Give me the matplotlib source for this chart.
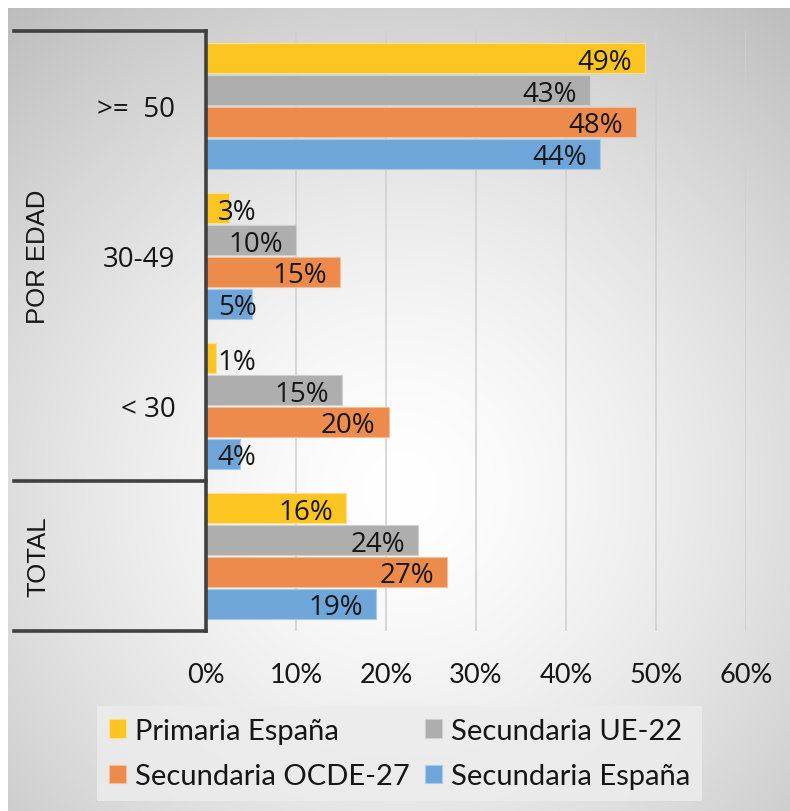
import numpy as np
import matplotlib
matplotlib.use("Agg")
import matplotlib.pyplot as plt
from matplotlib.transforms import blended_transform_factory
from matplotlib.patches import Patch

# ---------------- data ----------------
categories = [">=  50", "30-49", "< 30", "TOTAL"]
groups = ["POR EDAD", "TOTAL"]
series_names = ["Primaria España", "Secundaria UE-22",
                "Secundaria OCDE-27", "Secundaria España"]
primaria_espana = [48.8, 2.6, 1.1, 15.6]
secundaria_ue22 = [42.7, 10.0, 15.1, 23.6]
secundaria_ocde27 = [47.8, 14.9, 20.3, 26.8]
secundaria_espana = [43.8, 5.1, 3.8, 18.9]
x_ticks = [0, 10, 20, 30, 40, 50, 60]
x_tick_labels = ["0%", "10%", "20%", "30%", "40%", "50%", "60%"]

series_values = [primaria_espana, secundaria_ue22, secundaria_ocde27, secundaria_espana]
colors = ["#FCC521", "#AEAEAE", "#EC8B4C", "#6FA6DA"]
edge_colors = ["#FDE08A", "#D0D0D0", "#F5BE9A", "#A9CBEB"]
text_color = "#161616"

W, H = 790, 812
fig = plt.figure(figsize=(W / 100, H / 100), dpi=100)
fig.patch.set_facecolor("white")

# ---------------- background radial gradient ----------------
bg = fig.add_axes([8 / W, 0, (W - 8) / W, (H - 9) / H], zorder=-10)
yy, xx = np.mgrid[9:H:2, 8:W:2]
cx, cy = 400, 490
r = np.sqrt(((xx - cx) / 620.0) ** 2 + ((yy - cy) / 620.0) ** 2)
r = np.clip(r, 0, 1)
val = 1.0 - 0.26 * r ** 1.5
img = np.dstack([val, val, val])
bg.imshow(img, aspect="auto", extent=[0, 1, 0, 1], interpolation="bilinear")
bg.set_axis_off()

# ---------------- main axes ----------------
x0, x1 = 206, 746
y0, y1 = 32, 632
ax = fig.add_axes([x0 / W, 1 - y1 / H, (x1 - x0) / W, (y1 - y0) / H])
ax.set_facecolor("none")

ypos = np.arange(len(categories))
step = 0.2133
bar_h = 0.205
offsets = [-1.5 * step, -0.5 * step, 0.5 * step, 1.5 * step]

for vals, off, c, ec, name in zip(series_values, offsets, colors, edge_colors, series_names):
    ax.barh(ypos + off, vals, height=bar_h, color=c, edgecolor=ec, linewidth=0.8,
            label=name, zorder=3)
    for yv, v in zip(ypos + off, vals):
        lab = f"{round(v):d}%"
        if v >= 6:
            ax.annotate(lab, (v, yv), xytext=(-9.5, 0), textcoords="offset points",
                        ha="right", va="center_baseline", fontsize=20,
                        family="Open Sans", color=text_color, zorder=5)
        else:
            ax.annotate(lab, (0, yv), xytext=(8.5, 0), textcoords="offset points",
                        ha="left", va="center_baseline", fontsize=20,
                        family="Open Sans", color=text_color, zorder=5)

ax.set_xlim(0, 60)
ax.set_ylim(3.5, -0.5)
ax.set_xticks(x_ticks)
ax.set_xticklabels(x_tick_labels, family="Lato", fontsize=19.5, color=text_color)
ax.tick_params(axis="x", length=0, pad=22)
ax.set_yticks(ypos[:3])
ax.set_yticklabels(categories[:3], family="Open Sans", fontsize=20, color=text_color)
ax.tick_params(axis="y", length=0, pad=22)
ax.xaxis.grid(True, color="#cfcfcf", linewidth=1.1, zorder=0)
ax.set_axisbelow(True)
for s in ["top", "right", "bottom"]:
    ax.spines[s].set_visible(False)
ax.spines["left"].set_color("#404040")
ax.spines["left"].set_linewidth(2.6)
ax.spines["left"].set_zorder(6)

# hierarchical category lines
tr = blended_transform_factory(ax.transAxes, ax.transData)
lx = (14 - x0) / (x1 - x0)
for yl in [-0.5, 2.5, 3.5]:
    ax.plot([lx, 0], [yl, yl], transform=tr, color="#404040", lw=2.6,
            clip_on=False, solid_capstyle="projecting", zorder=6)

gx = (38 - x0) / (x1 - x0)
ax.text(gx, 1.0, groups[0], transform=tr, rotation=90, ha="center", va="center",
        family="Liberation Sans", fontsize=18.5, color=text_color)
ax.text(gx, 3.0, groups[1], transform=tr, rotation=90, ha="center", va="center",
        family="Liberation Sans", fontsize=18.5, color=text_color)

# ---------------- legend (row-major order as in the original) ----------------
handles = [Patch(facecolor=c, edgecolor=ec, linewidth=0.8) for c, ec in zip(colors, edge_colors)]
order = [0, 2, 1, 3]
leg = fig.legend([handles[i] for i in order], [series_names[i] for i in order],
                 ncol=2, mode="expand",
                 bbox_to_anchor=(97 / W, 1 - 806 / H, 605 / W, 103 / H),
                 loc="center", borderaxespad=0, frameon=True, fancybox=False,
                 prop={"family": "Lato", "size": 21},
                 handlelength=0.6, handleheight=0.6, handletextpad=0.3,
                 labelspacing=0.68, borderpad=0.4, labelcolor=text_color)
leg.get_frame().set_facecolor("#ececec")
leg.get_frame().set_edgecolor("none")
leg.get_frame().set_alpha(0.85)

fig.savefig("out.png", dpi=100)
